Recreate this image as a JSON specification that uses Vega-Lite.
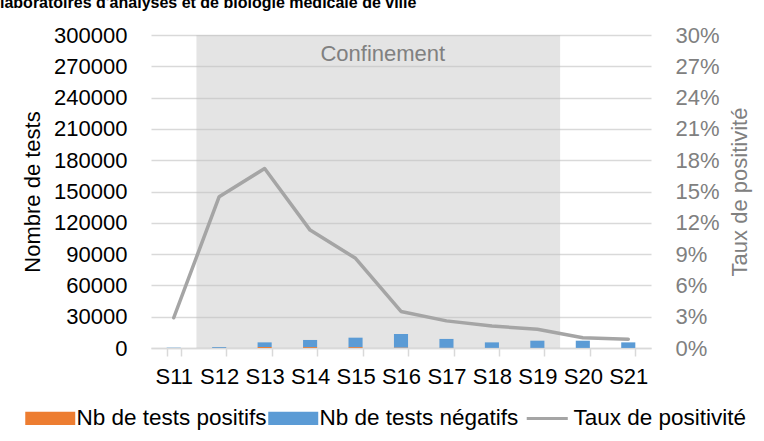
{
  "$schema": "https://vega.github.io/schema/vega-lite/v6.json",
  "width": 500,
  "height": 313,
  "autosize": {"type": "none"},
  "padding": {"left": 151, "top": 35, "right": 113, "bottom": 93},
  "background": "white",
  "config": {
    "font": "Liberation Sans",
    "view": {"stroke": null},
    "axis": {"labelFont": "Liberation Sans", "titleFont": "Liberation Sans"},
    "legend": {"labelFont": "Liberation Sans"}
  },
  "title": {
    "text": "laboratoires d'analyses et de biologie médicale de ville",
    "anchor": "start",
    "frame": "group",
    "fontSize": 16,
    "fontWeight": "bold",
    "color": "black",
    "offset": 12,
    "dx": -151,
    "dy": 12,
    "baseline": "alphabetic"
  },
  "datasets": {
    "shade": [{"periode": "Confinement", "debut": 1, "fin": 9, "centre": 5.1, "niveau": 282000}],
    "tests": [
      {"semaine": "S11", "serie": "Nb de tests positifs", "n": 9},
      {"semaine": "S11", "serie": "Nb de tests négatifs", "n": 291},
      {"semaine": "S12", "serie": "Nb de tests positifs", "n": 130},
      {"semaine": "S12", "serie": "Nb de tests négatifs", "n": 770},
      {"semaine": "S13", "serie": "Nb de tests positifs", "n": 930},
      {"semaine": "S13", "serie": "Nb de tests négatifs", "n": 4470},
      {"semaine": "S14", "serie": "Nb de tests positifs", "n": 870},
      {"semaine": "S14", "serie": "Nb de tests négatifs", "n": 6830},
      {"semaine": "S15", "serie": "Nb de tests positifs", "n": 850},
      {"semaine": "S15", "serie": "Nb de tests négatifs", "n": 9050},
      {"semaine": "S16", "serie": "Nb de tests positifs", "n": 460},
      {"semaine": "S16", "serie": "Nb de tests négatifs", "n": 13040},
      {"semaine": "S17", "serie": "Nb de tests positifs", "n": 225},
      {"semaine": "S17", "serie": "Nb de tests négatifs", "n": 8475},
      {"semaine": "S18", "serie": "Nb de tests positifs", "n": 120},
      {"semaine": "S18", "serie": "Nb de tests négatifs", "n": 5280},
      {"semaine": "S19", "serie": "Nb de tests positifs", "n": 130},
      {"semaine": "S19", "serie": "Nb de tests négatifs", "n": 6870},
      {"semaine": "S20", "serie": "Nb de tests positifs", "n": 70},
      {"semaine": "S20", "serie": "Nb de tests négatifs", "n": 6930},
      {"semaine": "S21", "serie": "Nb de tests positifs", "n": 45},
      {"semaine": "S21", "serie": "Nb de tests négatifs", "n": 5355}
    ],
    "taux": [
      {"semaine": "S11", "taux": 0.029},
      {"semaine": "S12", "taux": 0.145},
      {"semaine": "S13", "taux": 0.172},
      {"semaine": "S14", "taux": 0.113},
      {"semaine": "S15", "taux": 0.086},
      {"semaine": "S16", "taux": 0.035},
      {"semaine": "S17", "taux": 0.026},
      {"semaine": "S18", "taux": 0.021},
      {"semaine": "S19", "taux": 0.018},
      {"semaine": "S20", "taux": 0.0099},
      {"semaine": "S21", "taux": 0.0084}
    ]
  },
  "layer": [
    {
      "data": {"name": "shade"},
      "layer": [
        {
          "mark": {"type": "rect", "fill": "#bfbfbf", "opacity": 0.42},
          "encoding": {
            "x": {"field": "debut", "type": "quantitative", "scale": {"domain": [0, 11], "nice": false, "zero": false}, "axis": null},
            "x2": {"field": "fin"}
          }
        },
        {
          "mark": {"type": "text", "fontSize": 22, "color": "#808080", "baseline": "middle", "align": "center"},
          "encoding": {
            "x": {"field": "centre", "type": "quantitative", "scale": {"domain": [0, 11], "nice": false, "zero": false}, "axis": null},
            "y": {"field": "niveau", "type": "quantitative", "scale": {"domain": [0, 300000], "nice": false}, "axis": null},
            "text": {"field": "periode"}
          }
        }
      ]
    },
    {
      "encoding": {
        "x": {
          "field": "semaine",
          "type": "nominal",
          "scale": {"type": "band", "paddingInner": 0.69, "paddingOuter": 0.345},
          "axis": {
            "title": null,
            "labelAngle": 0,
            "labelFontSize": 22,
            "labelColor": "black",
            "domainColor": "#d9d9d9",
            "domainWidth": 1.5,
            "tickColor": "#d9d9d9",
            "tickWidth": 1.5,
            "tickSize": 8,
            "tickBand": "extent",
            "labelPadding": 10,
            "grid": false
          }
        }
      },
      "layer": [
        {
          "data": {"name": "tests"},
          "mark": {"type": "bar"},
          "encoding": {
            "y": {
              "field": "n",
              "type": "quantitative",
              "stack": "zero",
              "scale": {"domain": [0, 300000], "nice": false},
              "axis": {
                "title": "Nombre de tests",
                "titleFontSize": 22,
                "titleFontWeight": "normal",
                "titleColor": "black",
                "titlePadding": 9,
                "values": [0, 30000, 60000, 90000, 120000, 150000, 180000, 210000, 240000, 270000, 300000],
                "format": "d",
                "labelFontSize": 22,
                "labelColor": "black",
                "labelPadding": 24,
                "ticks": false,
                "tickSize": 0,
                "domain": false,
                "grid": true,
                "gridColor": "#d9d9d9",
                "gridWidth": 1.5
              }
            },
            "color": {
              "field": "serie",
              "type": "nominal",
              "scale": {
                "domain": ["Nb de tests positifs", "Nb de tests négatifs", "Taux de positivité"],
                "range": ["#ED7D31", "#5B9BD5", "#A5A5A5"]
              },
              "legend": {
                "title": null,
                "orient": "none",
                "direction": "horizontal",
                "legendX": -112,
                "legendY": 372,
                "labelFontSize": 22.5,
                "labelColor": "black",
                "labelOffset": 15,
                "labelLimit": 0,
                "columnPadding": 1,
                "symbolSize": 3540,
                "encode": {
                  "symbols": {
                    "update": {
                      "shape": {"signal": "datum.value === 'Taux de positivité' ? 'M-0.69,0H0.69' : 'M-0.84,-0.22H0.84V0.22H-0.84Z'"},
                      "fill": {"signal": "datum.value === 'Taux de positivité' ? 'transparent' : (datum.value === 'Nb de tests positifs' ? '#ED7D31' : '#5B9BD5')"},
                      "stroke": {"signal": "datum.value === 'Taux de positivité' ? '#A5A5A5' : 'transparent'"},
                      "strokeWidth": {"signal": "datum.value === 'Taux de positivité' ? 3 : 0"},
                      "opacity": {"value": 1},
                      "fillOpacity": {"value": 1},
                      "strokeOpacity": {"value": 1}
                    }
                  }
                }
              }
            },
            "order": {"field": "serie", "sort": "descending"}
          }
        },
        {
          "data": {"name": "taux"},
          "mark": {"type": "line", "strokeWidth": 3.5, "strokeJoin": "round", "strokeCap": "round"},
          "encoding": {
            "y": {
              "field": "taux",
              "type": "quantitative",
              "scale": {"domain": [0, 0.3], "nice": false},
              "axis": {
                "orient": "right",
                "title": "Taux de positivité",
                "titleFontSize": 22,
                "titleFontWeight": "normal",
                "titleColor": "#808080",
                "titleAngle": -90,
                "titlePadding": 32,
                "values": [0, 0.03, 0.06, 0.09, 0.12, 0.15, 0.18, 0.21, 0.24, 0.27, 0.3],
                "format": ".0%",
                "labelFontSize": 22,
                "labelColor": "#808080",
                "labelPadding": 24,
                "ticks": false,
                "tickSize": 0,
                "domain": false,
                "grid": false
              }
            },
            "color": {"datum": "Taux de positivité"}
          }
        }
      ],
      "resolve": {"scale": {"y": "independent"}}
    }
  ],
  "resolve": {"scale": {"x": "independent", "y": "independent"}}
}
